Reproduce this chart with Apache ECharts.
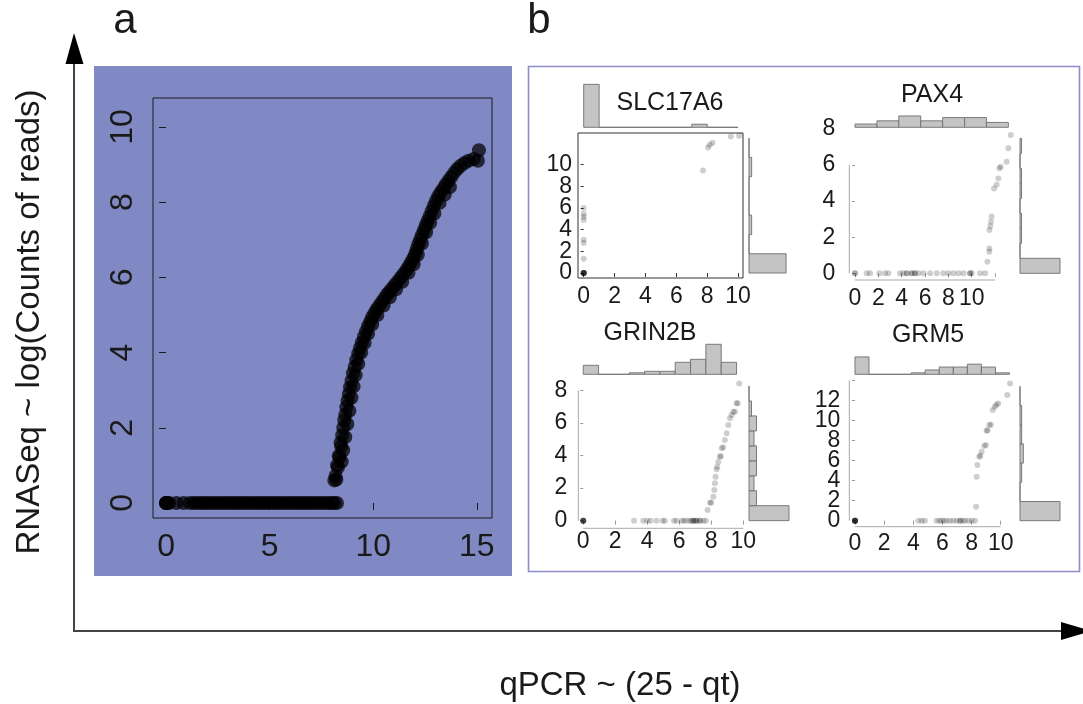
<!DOCTYPE html>
<html><head><meta charset="utf-8">
<script src="https://cdn.jsdelivr.net/npm/echarts@6/dist/echarts.min.js"></script>
<style>html,body{margin:0;padding:0;background:#fff}#c{width:1083px;height:704px}</style>
</head><body><div id="c"></div>
<script>
// ---------------- DATA ----------------
// Panel a: RNASeq vs qPCR (all genes)
const mainPoints = [
 [0,0],[0,0],[0,0],[0.05,0],[0.15,0],[0.5,0],[0.85,0],[1.15,0],
 [1.35,0],[1.5,0],[1.68,0],[1.85,0],[2.0,0],[2.18,0],[2.35,0],[2.5,0],[2.68,0],[2.85,0],
 [3.0,0],[3.18,0],[3.35,0],[3.5,0],[3.68,0],[3.85,0],[4.0,0],[4.18,0],[4.35,0],[4.5,0],
 [4.68,0],[4.85,0],[5.0,0],[5.18,0],[5.35,0],[5.5,0],[5.68,0],[5.85,0],[6.0,0],[6.18,0],
 [6.35,0],[6.5,0],[6.68,0],[6.85,0],[7.0,0],[7.18,0],[7.35,0],[7.5,0],[7.68,0],[7.85,0],
 [8.0,0],[8.12,0],[8.25,0],
 [8.12,0.6],[8.22,0.62],[8.18,0.72],[8.3,0.95],[8.25,1.0],[8.38,1.22],[8.33,1.25],[8.45,1.5],
 [8.42,1.6],[8.5,1.8],[8.55,2.0],[8.6,2.2],[8.65,2.35],[8.7,2.55],[8.76,2.72],[8.82,2.9],
 [8.88,3.08],[8.95,3.25],[9.02,3.45],[9.1,3.62],[9.18,3.8],[9.27,3.97],[9.36,4.12],[9.45,4.27],
 [9.55,4.42],[9.65,4.56],[9.75,4.7],[9.85,4.82],[9.95,4.94],[10.06,5.05],[10.17,5.15],[10.3,5.25],
 [10.42,5.35],[10.55,5.45],[10.68,5.55],[10.8,5.63],[10.93,5.72],[11.06,5.81],[11.2,5.9],[11.33,6.0],
 [11.47,6.1],[11.6,6.2],[11.72,6.3],[11.83,6.4],[11.93,6.5],[12.02,6.62],[12.1,6.75],[12.18,6.88],
 [12.26,7.0],[12.35,7.12],[12.44,7.25],[12.53,7.38],[12.62,7.5],[12.72,7.62],[12.82,7.76],[12.92,7.9],
 [13.02,8.03],[13.13,8.15],[13.25,8.26],[13.37,8.36],[13.5,8.47],[13.63,8.57],[13.76,8.67],[13.9,8.78],
 [14.05,8.88],[14.22,8.97],[14.4,9.04],[14.6,9.1],[14.85,9.15],[15.05,9.1],[15.1,9.38],
 // spread on the right side of the band
 [8.48,1.1],[8.55,1.4],[8.65,1.75],[8.75,2.1],[8.85,2.45],[8.95,2.8],[9.05,3.1],[9.15,3.4],
 [9.28,3.7],[9.42,4.0],[9.58,4.25],[9.75,4.5],[9.95,4.75],[10.2,5.0],[10.5,5.25],[10.8,5.47],
 [11.1,5.68],[11.4,5.88],[11.7,6.12],[11.95,6.35],[12.15,6.6],[12.35,6.9],[12.55,7.2],[12.75,7.45],
 [12.95,7.7],[13.2,7.98],[13.45,8.2],[13.7,8.4]
];
const mainXTicks = [0, 5, 10, 15];
const mainYTicks = [0, 2, 4, 6, 8, 10];

// SLC17A6
const slcPoints = [
 [0,0],[0,0],[0,0],[0,0],[0,0],[0,0],[0,0],[0,0],
 [0,1.32],[0,2.77],[0,3.07],[0,4.9],[0,5.2],[0,5.45],[0,6.0],
 [7.73,9.47],[8.06,11.6],[8.17,11.85],[8.34,12.03],[9.53,12.6],[10.07,12.67]
];
const slcTopHist = [[0,1,14],[1,2,0],[2,3,0],[3,4,0],[4,5,0],[5,6,0],[6,7,0],[7,8,1],[8,9,0],[9,10,0]];
const slcRightHist = [[0,1.78,14],[1.78,3.56,0],[3.56,5.34,1],[5.34,7.12,0],[7.12,8.9,0],[8.9,10.68,1],[10.68,12.46,0]];
const slcXTicks = [0,2,4,6,8,10], slcXLabels = [0,2,4,6,8,10];
const slcYTicks = [0,2,4,6,8,10], slcYLabels = [0,2,4,6,8,10];

// PAX4
const paxPoints = [
 [0,0],[0,0],[1.0,0],[1.29,0],[2.08,0],[2.57,0],[2.86,0],[3.86,0],[4.14,0],[4.43,0],[4.43,0],
 [4.86,0],[4.86,0],[5.14,0],[5.14,0],[5.43,0],[5.86,0],[6.43,0],[7.0,0],[7.57,0],[8.0,0],
 [8.43,0],[8.86,0],[9.29,0],[9.86,0],[9.86,0],[10.0,0],[10.71,0],[11.14,0],
 [11.34,0.64],[11.51,1.2],[11.51,1.38],[11.51,2.4],[11.6,2.62],[11.65,2.86],[11.7,3.14],
 [11.91,4.7],[12.14,4.9],[12.28,5.25],[12.37,5.81],[12.48,5.9],[12.99,6.18],[13.14,6.92],[13.34,7.66]
];
const paxTopHist = [[0,1.88,2],[1.88,3.75,4],[3.75,5.63,7],[5.63,7.51,4],[7.51,9.39,6],[9.39,11.26,6],[11.26,13.14,3]];
const paxRightHist = [[0,0.83,26],[0.83,1.66,0],[1.66,2.49,1],[2.49,3.32,1],[3.32,4.15,0],[4.15,4.98,1],[4.98,5.81,1],[5.81,6.64,0],[6.64,7.47,1]];
const paxXTicks = [0,2,4,6,8,10,12], paxXLabels = [0,2,4,6,8,10];
const paxYTicks = [0,2,4,6], paxYLabels = [0,2,4,6,8];

// GRIN2B
const grinPoints = [
 [0,0],[0,0],[0,0],[0,0],[0,0],[0,0],
 [3.17,0],[3.75,0],[4.0,0],[4.21,0],[4.58,0],[4.96,0],[5.1,0],[5.67,0],[5.83,0],[6.15,0],[6.29,0],
 [6.46,0],[6.67,0],[6.77,0],[6.88,0],[6.88,0],[6.98,0],[7.08,0],[7.08,0],[7.29,0],[7.29,0],[7.5,0],[7.67,0],
 [7.77,0.66],[7.92,1.1],[8.0,1.12],[8.13,1.47],[8.19,1.88],[8.23,2.29],[8.27,2.7],[8.33,3.15],[8.38,3.3],
 [8.44,3.62],[8.54,3.93],[8.6,3.95],[8.65,4.44],[8.75,4.5],[8.85,4.95],[8.96,5.36],[9.06,5.87],[9.17,6.28],
 [9.27,6.48],[9.38,6.69],[9.48,6.69],[9.58,7.2],[9.65,7.2],[9.75,8.42]
];
const grinTopHist = [[0,0.958,6],[0.958,1.916,0],[1.916,2.874,0],[2.874,3.832,1],[3.832,4.79,2],[4.79,5.748,2],[5.748,6.706,8],[6.706,7.664,10],[7.664,8.622,20],[8.622,9.58,8]];
const grinRightHist = [[0,0.918,16],[0.918,1.836,3],[1.836,2.754,2],[2.754,3.672,3],[3.672,4.59,3],[4.59,5.508,2],[5.508,6.426,3],[6.426,7.344,1],[7.344,8.262,0]];
const grinXTicks = [0,2,4,6,8,10], grinXLabels = [0,2,4,6,8,10];
const grinYTicks = [0,2,4,6,8], grinYLabels = [0,2,4,6,8];

// GRM5
const grmPoints = [
 [0,0],[0,0],[0,0],[0,0],[0,0],[0,0],[0,0],[0,0],
 [4.35,0],[4.58,0],[4.8,0],[5.6,0],[5.79,0],[5.95,0],[6.11,0],[6.29,0],[6.52,0],[6.75,0],[6.98,0],
 [7.21,0],[7.21,0],[7.39,0],[7.55,0],[7.78,0],[8.01,0],[8.24,0],
 [8.31,1.4],[8.35,4.4],[8.4,5.57],[8.53,6.4],[8.6,6.5],[8.69,6.9],[8.87,7.47],[8.99,7.57],[9.03,9.0],
 [9.1,9.05],[9.22,9.57],[9.33,9.6],[9.45,11.07],[9.6,11.4],[9.7,11.6],[9.83,11.73],[10.45,12.57],[10.64,13.73]
];
const grmTopHist = [[0,0.964,12],[0.964,1.928,0],[1.928,2.892,0],[2.892,3.856,0],[3.856,4.82,1],[4.82,5.784,3],[5.784,6.748,5],[6.748,7.712,5],[7.712,8.676,7],[8.676,9.64,5],[9.64,10.604,1]];
const grmRightHist = [[0,1.92,24],[1.92,3.84,0],[3.84,5.76,1],[5.76,7.68,2],[7.68,9.6,1],[9.6,11.52,1],[11.52,13.44,0]];
const grmXTicks = [0,2,4,6,8,10], grmXLabels = [0,2,4,6,8,10];
const grmYTicks = [0,2,4,6,8,10,12,14], grmYLabels = [0,2,4,6,8,10,12];

// ---------------- LAYOUT ----------------
const FONT = '"Liberation Sans", Arial, Helvetica, sans-serif';
const TXT = '#1a1a1a';
const SUBFS = 23;
const panels = [
 {title:'SLC17A6', pts:slcPoints, th:slcTopHist, rh:slcRightHist, xt:slcXTicks, xl:slcXLabels, yt:slcYTicks, yl:slcYLabels,
  L:{left:578, top:133, width:165, height:145, x:[-0.37,10.32], y:[-0.46,12.93], box:true, xm:7, ym:6,
     tTop:81.3, tH:46, tMax:15, rLeft:749, rW:40, rMax:15.1, tp:[670,103]}},
 {title:'PAX4', pts:paxPoints, th:paxTopHist, rh:paxRightHist, xt:paxXTicks, xl:paxXLabels, yt:paxYTicks, yl:paxYLabels,
  L:{left:849.3, top:128.8, width:167.6, height:151.2, x:[-0.49,13.87], y:[-0.37,8.0], box:false, xm:7, ym:14,
     xLine:[0,12], yLine:[0,6], tTop:113.3, tH:14, tMax:8.64, rLeft:1020, rW:42, rMax:27.3, tp:[932,95]}},
 {title:'GRIN2B', pts:grinPoints, th:grinTopHist, rh:grinRightHist, xt:grinXTicks, xl:grinXLabels, yt:grinYTicks, yl:grinYLabels,
  L:{left:578.3, top:377.9, width:167.2, height:150.4, x:[-0.31,10.14], y:[-0.47,8.76], box:false, xm:2, ym:11,
     xLine:[0,10], yLine:[0,8], tTop:342.3, tH:32, tMax:21.33, rLeft:749, rW:42, rMax:16.8, tp:[650,333]}},
 {title:'GRM5', pts:grmPoints, th:grmTopHist, rh:grmRightHist, xt:grmXTicks, xl:grmXLabels, yt:grmYTicks, yl:grmYLabels,
  L:{left:849.3, top:377.9, width:167, height:148.8, x:[-0.39,11.07], y:[-0.6,14.28], box:false, xm:5, ym:9,
     xLine:[0,10], yLine:[0,14], tTop:354.3, tH:20, tMax:13.8, rLeft:1020, rW:42, rMax:25.2, tp:[928,335]}}
];

const grids = [], xAxes = [], yAxes = [], series = [];
function addGrid(g){ grids.push(Object.assign({containLabel:false, outerBoundsMode:'none'}, g)); return grids.length-1; }
const LBL = {showMinLabel:true, showMaxLabel:true, hideOverlap:false, fontFamily:FONT, color:TXT};

// Panel a
const gMain = addGrid({left:153, top:98, width:339, height:420, show:true, borderColor:'#1a1a1a', borderWidth:1, backgroundColor:'transparent'});
xAxes.push({type:'value', gridIndex:gMain, min:-0.63, max:15.73, axisLine:{show:false}, splitLine:{show:false},
  axisTick:{show:true, customValues:mainXTicks, length:7, lineStyle:{color:'#1a1a1a'}},
  axisLabel:Object.assign({customValues:mainXTicks, fontSize:32, margin:13}, LBL)});
yAxes.push({type:'value', gridIndex:gMain, min:-0.40, max:10.77, axisLine:{show:false}, splitLine:{show:false},
  axisTick:{show:true, customValues:mainYTicks, length:7, lineStyle:{color:'#1a1a1a'}},
  axisLabel:Object.assign({customValues:mainYTicks, rotate:90, fontSize:32, margin:14}, LBL)});
series.push({type:'scatter', xAxisIndex:0, yAxisIndex:0, data:mainPoints, symbolSize:14, silent:true,
  itemStyle:{color:'rgba(0,0,0,0.9)'}});

function histSeries(xi, yi, data, horizontal){
  return {type:'custom', xAxisIndex:xi, yAxisIndex:yi, data:data, silent:true, clip:false,
    encode: horizontal ? {y:[0,1], x:2} : {x:[0,1], y:2},
    renderItem:function(params, api){
      const a=api.value(0), b=api.value(1), c=api.value(2);
      let p0, p1;
      if(!horizontal){ p0=api.coord([a,0]); p1=api.coord([b,c]); }
      else { p0=api.coord([0,a]); p1=api.coord([c,b]); }
      return {type:'rect', shape:{x:Math.min(p0[0],p1[0]), y:Math.min(p0[1],p1[1]),
        width:Math.abs(p1[0]-p0[0]), height:Math.abs(p1[1]-p0[1])},
        style:{fill:'#c4c4c4', stroke:'#6e6e6e', lineWidth:0.9}};
    }};
}

const texts = [];
panels.forEach(p=>{
  const L = p.L;
  const gs = addGrid({left:L.left, top:L.top, width:L.width, height:L.height,
    show:L.box, borderColor:'#333', borderWidth:1, backgroundColor:'transparent'});
  const tickCol = L.box ? '#333' : '#9a9a9a';
  xAxes.push({type:'value', gridIndex:gs, min:L.x[0], max:L.x[1], axisLine:{show:false}, splitLine:{show:false},
    axisTick:{show:true, customValues:p.xt, length:4, lineStyle:{color:tickCol}},
    axisLabel:Object.assign({customValues:p.xl, fontSize:SUBFS, margin:L.xm}, LBL)});
  const xi = xAxes.length-1;
  // two stacked left y axes on the same scale: alternate labels so none is dropped as overlapping
  yAxes.push({type:'value', gridIndex:gs, position:'left', offset:0, min:L.y[0], max:L.y[1], axisLine:{show:false}, splitLine:{show:false},
    axisTick:{show:true, customValues:p.yt, length:3, lineStyle:{color:tickCol}},
    axisLabel:Object.assign({customValues:p.yl.filter((v,i)=>i%2===0), fontSize:SUBFS, margin:L.ym}, LBL)});
  const yi = yAxes.length-1;
  yAxes.push({type:'value', gridIndex:gs, position:'left', offset:0, min:L.y[0], max:L.y[1], axisLine:{show:false}, splitLine:{show:false},
    axisTick:{show:false},
    axisLabel:Object.assign({customValues:p.yl.filter((v,i)=>i%2===1), fontSize:SUBFS, margin:L.ym}, LBL)});
  xAxes.push({type:'value', gridIndex:gs, min:L.x[0], max:L.x[1], show:false});
  series.push({type:'scatter', xAxisIndex:xi, yAxisIndex:yi, data:p.pts, symbolSize:6, silent:true, clip:false,
    itemStyle:{color:'rgba(0,0,0,0.24)'}});
  if(!L.box){
    series.push({type:'line', xAxisIndex:xi, yAxisIndex:yi, symbol:'none', silent:true, clip:false,
      data:[[L.xLine[0], L.y[0]],[L.xLine[1], L.y[0]]], lineStyle:{color:'#a8a8a8', width:1}});
    series.push({type:'line', xAxisIndex:xi, yAxisIndex:yi, symbol:'none', silent:true, clip:false,
      data:[[L.x[0], L.yLine[0]],[L.x[0], L.yLine[1]]], lineStyle:{color:'#a8a8a8', width:1}});
  }
  const gt = addGrid({left:L.left, top:L.tTop, width:L.width, height:L.tH});
  xAxes.push({type:'value', gridIndex:gt, min:L.x[0], max:L.x[1], show:false});
  yAxes.push({type:'value', gridIndex:gt, min:0, max:L.tMax, show:false});
  series.push(histSeries(xAxes.length-1, yAxes.length-1, p.th, false));
  const gr = addGrid({left:L.rLeft, top:L.top, width:L.rW, height:L.height});
  xAxes.push({type:'value', gridIndex:gr, min:0, max:L.rMax, show:false});
  yAxes.push({type:'value', gridIndex:gr, min:L.y[0], max:L.y[1], show:false});
  series.push(histSeries(xAxes.length-1, yAxes.length-1, p.rh, true));
  texts.push({type:'text', x:L.tp[0], y:L.tp[1], z:100, silent:true,
    style:{text:p.title, font:'25px '+FONT, fill:TXT, textAlign:'center', textVerticalAlign:'middle', align:'center', verticalAlign:'middle'}});
});

const graphics = [
  {type:'rect', z:-10, silent:true, shape:{x:94, y:66, width:418, height:510}, style:{fill:'#8189c4'}},
  {type:'rect', z:-10, silent:true, shape:{x:528.5, y:66.5, width:551, height:505}, style:{fill:'#ffffff', stroke:'#8f8dc9', lineWidth:1.6}},
  {type:'line', z:50, silent:true, shape:{x1:74, y1:631, x2:74, y2:60}, style:{stroke:'#444', lineWidth:2}},
  {type:'polygon', z:50, silent:true, shape:{points:[[74,33],[65.5,64],[83.5,64]]}, style:{fill:'#000'}},
  {type:'line', z:50, silent:true, shape:{x1:73, y1:631, x2:1064, y2:631}, style:{stroke:'#444', lineWidth:2}},
  {type:'polygon', z:50, silent:true, shape:{points:[[1061,622],[1061,640],[1092,631]]}, style:{fill:'#000'}},
  {type:'text', z:100, silent:true, x:125, y:42, style:{text:'a', font:'42px '+FONT, fill:TXT, textAlign:'center', align:'center', textVerticalAlign:'bottom', verticalAlign:'bottom'}},
  {type:'text', z:100, silent:true, x:539, y:42, style:{text:'b', font:'42px '+FONT, fill:TXT, textAlign:'center', align:'center', textVerticalAlign:'bottom', verticalAlign:'bottom'}},
  {type:'text', z:100, silent:true, x:620, y:686, style:{text:'qPCR ~ (25 - qt)', font:'33px '+FONT, fill:TXT, textAlign:'center', align:'center', textVerticalAlign:'middle', verticalAlign:'middle'}},
  {type:'text', z:100, silent:true, x:30, y:322, rotation:Math.PI/2, style:{text:'RNASeq ~ log(Counts of reads)', font:'33px '+FONT, fill:TXT, textAlign:'center', align:'center', textVerticalAlign:'middle', verticalAlign:'middle'}}
].concat(texts);

const chart = echarts.init(document.getElementById('c'), null, {renderer:'canvas'});
chart.setOption({
  animation:false,
  backgroundColor:'#ffffff',
  grid:grids, xAxis:xAxes, yAxis:yAxes, series:series,
  graphic:{elements:graphics}
});
</script></body></html>
